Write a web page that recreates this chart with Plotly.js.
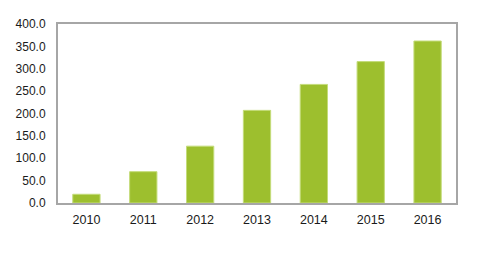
<!DOCTYPE html>
<html><head><meta charset="utf-8">
<script src="https://cdn.plot.ly/plotly-3.0.1.min.js"></script>
<style>html,body{margin:0;padding:0;background:#fff}#c{width:478px;height:253px}</style>
</head><body><div id="c"></div>
<script>
const years = ["2010","2011","2012","2013","2014","2015","2016"];
const values = [19.5, 70, 127, 207, 265, 316, 362];
const yTicks = [0,50,100,150,200,250,300,350,400];
const yTickText = ["0.0","50.0","100.0","150.0","200.0","250.0","300.0","350.0","400.0"];

Plotly.newPlot("c", [{
  type: "bar", x: years, y: values,
  marker: {color: "#9dbf2e", line: {color: "#c4dc7a", width: 1}},
  width: 0.48, hoverinfo: "none"
}], {
  width: 478, height: 253,
  margin: {l: 58, r: 22, t: 24, b: 50},
  paper_bgcolor: "#fff", plot_bgcolor: "#fff",
  showlegend: false,
  font: {family: "Liberation Sans, Arial, sans-serif", size: 12, color: "#1a1a1a"},
  xaxis: {type: "category", showline: true, linecolor: "#a6a6a6", linewidth: 2, mirror: true,
          ticks: "", ticklen: 0, tickfont: {size: 12.5, color: "#1a1a1a"}, showgrid: false, zeroline: false,
          ticklabelstandoff: 4},
  yaxis: {range: [0, 400], tickvals: yTicks, ticktext: yTickText, showline: true, linecolor: "#a6a6a6",
          linewidth: 2, mirror: true, ticks: "", showgrid: false, zeroline: false,
          tickfont: {size: 12, color: "#1a1a1a"}, ticklabelstandoff: 8}
}, {staticPlot: true});
</script></body></html>
